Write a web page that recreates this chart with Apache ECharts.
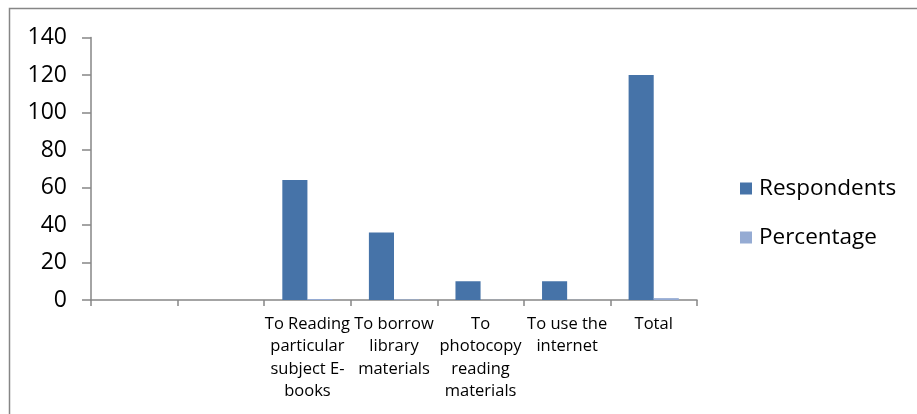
<!DOCTYPE html>
<html>
<head>
<meta charset="utf-8">
<script src="https://cdn.jsdelivr.net/npm/echarts@6/dist/echarts.min.js"></script>
<style>
  html, body { margin: 0; padding: 0; background: #fff; }
  #chart { width: 917px; height: 414px; }
</style>
</head>
<body>
<div id="chart"></div>
<script>
// Purposes for visiting the library (two leading slots are blank)
const categories = [
  '',
  '',
  'To Reading\nparticular\nsubject E-\nbooks',
  'To borrow\nlibrary\nmaterials',
  'To\nphotocopy\nreading\nmaterials',
  'To use the\ninternet',
  'Total'
];
const respondents = [null, null, 64, 36, 10, 10, 120];
const percentage = [null, null, 0.53, 0.3, 0.08, 0.08, 1];
const yTicks = { min: 0, max: 140, interval: 20 };

const axisGrey = '#868686';
const font = '"Open Sans", Lato, sans-serif';

const chart = echarts.init(document.getElementById('chart'));
chart.setOption({
  animation: false,
  backgroundColor: '#fff',
  graphic: [{
    type: 'rect',
    shape: { x: 9.5, y: 8.5, width: 920, height: 420 },
    style: { fill: 'none', stroke: axisGrey, lineWidth: 1.5 },
    silent: true
  }],
  grid: { left: 91, right: 220, top: 37.5, bottom: 114 },
  legend: {
    orient: 'vertical',
    left: 735,
    top: 171,
    itemWidth: 12,
    itemHeight: 12,
    itemGap: 24,
    icon: 'rect',
    textStyle: { fontFamily: font, fontSize: 22.5, lineHeight: 25, color: '#000', padding: [0, 0, 0, 2] },
    data: ['Respondents', 'Percentage']
  },
  xAxis: {
    type: 'category',
    data: categories,
    axisLine: { lineStyle: { color: axisGrey, width: 1.5 } },
    axisTick: { show: true, length: 6, alignWithLabel: false, lineStyle: { color: axisGrey, width: 1.5 } },
    axisLabel: {
      interval: 0,
      margin: 13,
      fontFamily: font,
      fontSize: 16.5,
      lineHeight: 22.5,
      color: '#000',
      align: 'center'
    }
  },
  yAxis: {
    type: 'value',
    min: yTicks.min,
    max: yTicks.max,
    interval: yTicks.interval,
    splitLine: { show: false },
    axisLine: { show: true, lineStyle: { color: axisGrey, width: 1.5 } },
    axisTick: { show: true, length: 9, lineStyle: { color: axisGrey, width: 1.5 } },
    axisLabel: { fontFamily: font, fontSize: 23, color: '#000', margin: 24 }
  },
  series: [
    {
      name: 'Respondents',
      type: 'bar',
      data: respondents,
      barGap: '0%',
      barCategoryGap: '42%',
      itemStyle: { color: '#4673A8' }
    },
    {
      name: 'Percentage',
      type: 'bar',
      data: percentage,
      barGap: '0%',
      barCategoryGap: '42%',
      itemStyle: { color: '#95ABD3' }
    }
  ]
});
</script>
</body>
</html>
